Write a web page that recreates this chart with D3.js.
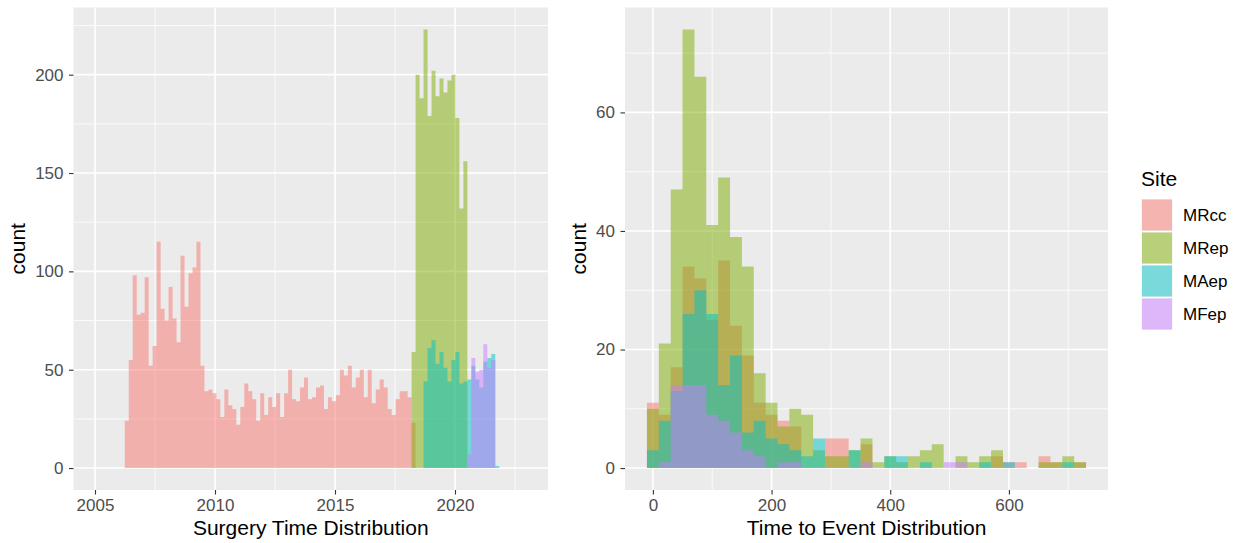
<!DOCTYPE html>
<html>
<head>
<meta charset="utf-8">
<script src="https://cdn.jsdelivr.net/npm/d3@7"></script>
<style>
  body { margin: 0; background: #fff; }
  text { font-family: "Liberation Sans", Arial, sans-serif; }
</style>
</head>
<body>
<div id="container"></div>
<script>
let w = 1239;
let h = 543;

// SITES
const sites = ["MRcc", "MRep", "MAep", "MFep"];
const siteColors = ["#F8766D", "#7CAE00", "#00BFC4", "#C77CFF"];

// SURGERY TIME HISTOGRAM (bins of about two months, in years)
const surgeryBinStart = 2006.24;
const surgeryBinWidth = 0.166;
const surgeryFirstBin = [0, 72, 75, 86];
const surgeryMRcc = [24,55,98,78,79,97,52,62,115,81,75,92,76,64,108,82,99,102,115,52,
  39,40,38,35,26,40,32,30,22,31,43,39,35,24,38,27,36,31,38,26,
  38,50,35,34,41,46,35,36,41,42,30,36,34,37,50,47,52,41,46,50,
  36,50,33,40,45,41,30,27,35,39,39,36,23];
const surgeryMRep = [59,200,188,223,179,202,189,198,191,197,200,178,132,156];
const surgeryMAep = [44,61,65,53,59,51,44,55,59,43,44,45,52,45,41,54,56,58,1];
const surgeryMFep = [7,56,49,50,63,51,55];
const surgeryYearTicks = [2005, 2010, 2015, 2020];
const surgeryCountTicks = [0, 50, 100, 150, 200];

// TIME TO EVENT HISTOGRAM (bins of 20, centred on 0, 20, 40 ...)
const eventBinWidth = 20;
const eventFirstCenter = 0;
const eventMRcc = [11,9,17,34,32,25,35,24,19,11,9,8,7,0,0,5,5,0,4,0,0,0,0,0,0,0,0,0,0,2,1,1,0,2,1,0,1];
const eventMRep = [10,21,47,74,66,41,49,39,34,16,11,7,10,9,3,2,2,3,5,1,2,1,2,3,4,0,2,1,2,3,0,0,0,1,1,2,1];
const eventMAep = [3,8,13,26,30,26,14,19,6,8,5,4,3,2,5,0,0,3,0,0,2,2,0,1,0,0,0,0,1,0,1,0,0,0,0,1,0];
const eventMFep = [0,1,14,14,14,9,8,6,3,2,0,1,1,0,0,0,0,0,1,0,0,0,0,0,0,1,1,0,0,0,0,0,0,0,0,0,0];
const eventTicks = [0, 200, 400, 600];
const eventCountTicks = [0, 20, 40, 60];

let viz = d3.select("#container").append("svg")
    .attr("width", w)
    .attr("height", h)
    .style("display", "block")
    .style("background-color", "white");

let panelTop = 7.5;
let panelBottom = 490;

function drawPanel(cfg) {
  let x = d3.scaleLinear().domain(cfg.xDomain).range([cfg.left, cfg.right]);
  let maxCount = d3.max(cfg.series, s => d3.max(s.counts));
  let y = d3.scaleLinear().domain([-maxCount * 0.05, maxCount * 1.05]).range([panelBottom, panelTop]);

  let g = viz.append("g");
  g.append("rect")
    .attr("x", cfg.left).attr("y", panelTop)
    .attr("width", cfg.right - cfg.left).attr("height", panelBottom - panelTop)
    .attr("fill", "#EBEBEB");

  // minor grid, halfway between major ticks
  let xStep = cfg.xTicks[1] - cfg.xTicks[0];
  let yStep = cfg.yTicks[1] - cfg.yTicks[0];
  let xMinor = d3.range(cfg.xTicks[0] - xStep / 2, cfg.xDomain[1], xStep).filter(v => v > cfg.xDomain[0]);
  let yMinor = d3.range(cfg.yTicks[0] - yStep / 2, y.domain()[1], yStep).filter(v => v > y.domain()[0]);

  g.selectAll(".xminor").data(xMinor).enter().append("line")
    .attr("x1", d => x(d)).attr("x2", d => x(d))
    .attr("y1", panelTop).attr("y2", panelBottom)
    .attr("stroke", "#fff").attr("stroke-width", 0.8);
  g.selectAll(".yminor").data(yMinor).enter().append("line")
    .attr("x1", cfg.left).attr("x2", cfg.right)
    .attr("y1", d => y(d)).attr("y2", d => y(d))
    .attr("stroke", "#fff").attr("stroke-width", 0.8);
  g.selectAll(".xmajor").data(cfg.xTicks).enter().append("line")
    .attr("x1", d => x(d)).attr("x2", d => x(d))
    .attr("y1", panelTop).attr("y2", panelBottom)
    .attr("stroke", "#fff").attr("stroke-width", 1.6);
  g.selectAll(".ymajor").data(cfg.yTicks).enter().append("line")
    .attr("x1", cfg.left).attr("x2", cfg.right)
    .attr("y1", d => y(d)).attr("y2", d => y(d))
    .attr("stroke", "#fff").attr("stroke-width", 1.6);

  // HISTOGRAM BARS (one stepped area per site, drawn in site order)
  let area = d3.area()
    .curve(d3.curveStepAfter)
    .x(d => x(d.x))
    .y0(y(0))
    .y1(d => y(d.c));

  cfg.series.forEach((s, si) => {
    let pts = s.counts.map((c, i) => ({ x: cfg.binEdge(s.first + i), c: c }));
    pts.push({ x: cfg.binEdge(s.first + s.counts.length), c: s.counts[s.counts.length - 1] });
    g.append("path")
      .attr("d", area(pts))
      .attr("fill", siteColors[si])
      .attr("fill-opacity", 0.5);
  });

  // AXES
  let xAxis = g.append("g")
    .attr("transform", "translate(0," + panelBottom + ")")
    .call(d3.axisBottom(x).tickValues(cfg.xTicks).tickFormat(d3.format("d")).tickSize(4.5).tickPadding(4.5));
  let yAxis = g.append("g")
    .attr("transform", "translate(" + cfg.left + ",0)")
    .call(d3.axisLeft(y).tickValues(cfg.yTicks).tickFormat(d3.format("d")).tickSize(4.5).tickPadding(5.5));
  [xAxis, yAxis].forEach(a => {
    a.select(".domain").remove();
    a.selectAll(".tick line").attr("stroke", "#333333").attr("stroke-width", 1.1);
    a.selectAll(".tick text").attr("fill", "#4D4D4D").style("font-size", "17px")
      .style("font-family", "'Liberation Sans', Arial, sans-serif");
  });

  g.append("text")
    .attr("x", (cfg.left + cfg.right) / 2).attr("y", 535)
    .attr("text-anchor", "middle")
    .style("font-size", "21px")
    .text(cfg.xTitle);
  g.append("text")
    .attr("transform", "translate(" + cfg.yTitleX + "," + ((panelTop + panelBottom) / 2) + ") rotate(-90)")
    .attr("text-anchor", "middle")
    .style("font-size", "21px")
    .text("count");
}

drawPanel({
  left: 73.5, right: 548,
  xDomain: [2004.104, 2023.875],
  xTicks: surgeryYearTicks, yTicks: surgeryCountTicks,
  binEdge: k => surgeryBinStart + k * surgeryBinWidth,
  series: [
    { first: surgeryFirstBin[0], counts: surgeryMRcc },
    { first: surgeryFirstBin[1], counts: surgeryMRep },
    { first: surgeryFirstBin[2], counts: surgeryMAep },
    { first: surgeryFirstBin[3], counts: surgeryMFep }
  ],
  xTitle: "Surgery Time Distribution",
  yTitleX: 25
});

drawPanel({
  left: 625, right: 1108,
  xDomain: [-47, 767],
  xTicks: eventTicks, yTicks: eventCountTicks,
  binEdge: k => eventFirstCenter - eventBinWidth / 2 + k * eventBinWidth,
  series: [
    { first: 0, counts: eventMRcc },
    { first: 0, counts: eventMRep },
    { first: 0, counts: eventMAep },
    { first: 0, counts: eventMFep }
  ],
  xTitle: "Time to Event Distribution",
  yTitleX: 585.5
});

// LEGEND
let legend = viz.append("g").attr("transform", "translate(1141,0)");
legend.append("text")
  .attr("x", 0).attr("y", 186)
  .style("font-size", "21px")
  .text("Site");
let keys = legend.selectAll(".key").data(sites).enter().append("g")
  .attr("class", "key")
  .attr("transform", (d, i) => "translate(0," + (198.5 + i * 33) + ")");
keys.append("rect")
  .attr("width", 32).attr("height", 33)
  .attr("fill", "#F2F2F2").attr("stroke", "#fff").attr("stroke-width", 1);
keys.append("rect")
  .attr("x", 1).attr("y", 1).attr("width", 30).attr("height", 31)
  .attr("fill", (d, i) => siteColors[i]).attr("fill-opacity", 0.5);
keys.append("text")
  .attr("x", 42).attr("y", 16.5).attr("dy", "0.35em")
  .style("font-size", "17px").attr("fill", "#000")
  .text(d => d);
</script>
</body>
</html>
